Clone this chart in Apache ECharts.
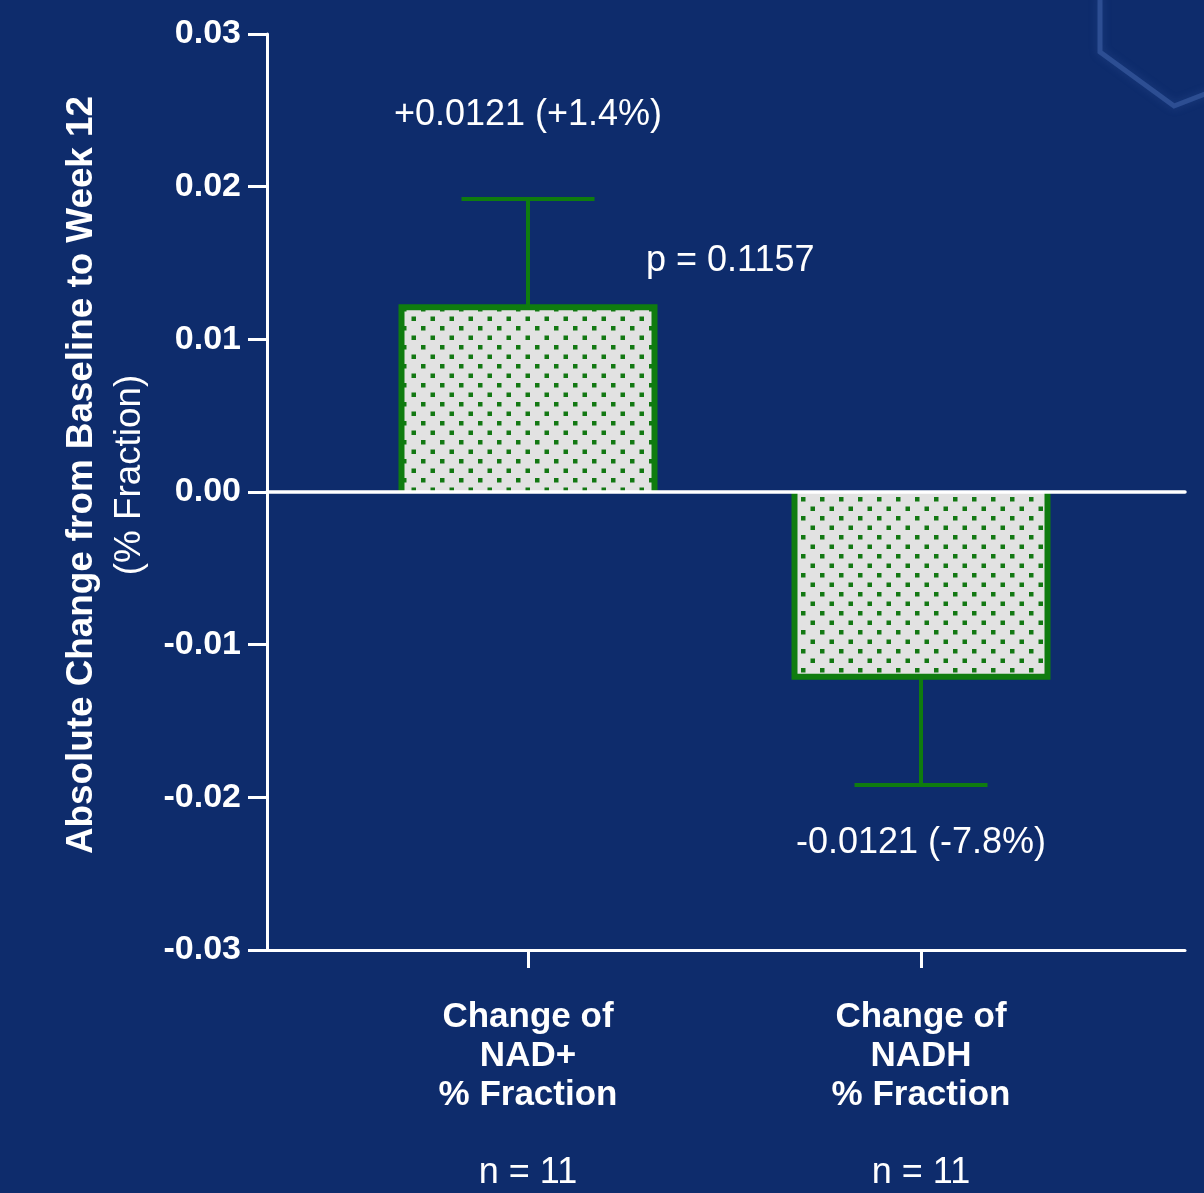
<!DOCTYPE html>
<html>
<head>
<meta charset="utf-8">
<title>NAD+ / NADH change</title>
<script src="https://cdn.jsdelivr.net/npm/echarts@6/dist/echarts.min.js"></script>
<style>
  html, body { margin: 0; padding: 0; background: #0e2c6c; }
  #chart { width: 1204px; height: 1193px; }
</style>
</head>
<body>
<div id="chart"></div>
<script>
// Measured compounds and their group sizes
const compounds = ['NAD+', 'NADH'];
const groupSizes = [11, 11];
// Mean absolute change from baseline to week 12 (% fraction)
const meanChange = [0.0121, -0.0121];
// Relative change in percent
const relativeChange = [1.4, -7.8];
// Standard error bar lengths (drawn away from zero)
const errorSize = [0.0071, 0.0071];
// Y axis range and step
const yMin = -0.03, yMax = 0.03, yStep = 0.01;
const pValueText = 'p = 0.1157';

const FONT = '"Liberation Sans", Arial, Helvetica, sans-serif';
const WHITE = '#ffffff';
const GREEN = '#0f7c0f';
const BAR_WIDTH = 253;

// dotted light-grey fill used inside the bars
function dotPattern() {
  const c = document.createElement('canvas');
  const s = 19;
  c.width = s; c.height = s;
  const g = c.getContext('2d');
  g.fillStyle = '#e2e2e2';
  g.fillRect(0, 0, s, s);
  g.fillStyle = '#137813';
  g.fillRect(3, 3, 4.5, 4.5);
  g.fillRect(12.5, 12.5, 4.5, 4.5);
  return c;
}

function signed(v, digits) {
  return (v > 0 ? '+' : '') + v.toFixed(digits);
}

const barData = meanChange.map((v, i) => ({
  value: v,
  label: {
    position: v >= 0 ? 'top' : 'bottom',
    distance: v >= 0 ? 174 : 148
  }
}));

// [category index, bar end, error end]
const outlineData = meanChange.map((v, i) => [
  i, v, v + Math.sign(v) * errorSize[i]
]);

const chart = echarts.init(document.getElementById('chart'), null, { renderer: 'canvas' });

chart.setOption({
  backgroundColor: '#0e2c6c',
  animation: false,
  title: {
    text: pValueText,
    left: 641,
    top: 238,
    textStyle: { color: WHITE, fontFamily: FONT, fontSize: 36, fontWeight: 'normal' }
  },
  graphic: [{
    type: 'polyline',
    silent: true,
    z: -1,
    shape: { points: [[1100, -5], [1100, 52], [1174, 106], [1210, 92]] },
    style: { stroke: 'rgba(75,110,185,0.45)', lineWidth: 5, fill: null, shadowBlur: 8, shadowColor: 'rgba(75,110,185,0.6)' }
  }],
  grid: [
    { left: 267, right: 19, top: 34, bottom: 243 },
    { left: 331.5, right: 86.5, top: 34, bottom: 243 }
  ],
  xAxis: [
    {
      // bottom frame line
      gridIndex: 0, type: 'value', min: 0, max: 1, position: 'bottom', z: 10,
      axisLine: { show: true, onZero: false, lineStyle: { color: WHITE, width: 3 } },
      axisTick: { show: false }, axisLabel: { show: false }, splitLine: { show: false }
    },
    {
      // zero reference line
      gridIndex: 0, type: 'value', min: 0, max: 1, position: 'top', z: 10,
      axisLine: { show: true, onZero: true, lineStyle: { color: WHITE, width: 3.5 } },
      axisTick: { show: false }, axisLabel: { show: false }, splitLine: { show: false }
    },
    {
      gridIndex: 1, type: 'category', data: compounds, position: 'bottom',
      axisLine: { show: false, onZero: false },
      axisTick: { show: true, alignWithLabel: true, length: 18, lineStyle: { color: WHITE, width: 3 } },
      axisLabel: {
        margin: 48,
        color: WHITE,
        fontFamily: FONT,
        fontSize: 35,
        lineHeight: 39,
        formatter: (name, idx) =>
          '{b|Change of}\n{b|' + name + '}\n{b|% Fraction}\n{b| }\n{n|n = ' + groupSizes[idx] + '}',
        rich: {
          b: { color: WHITE, fontFamily: FONT, fontSize: 35, fontWeight: 'bold', lineHeight: 39 },
          n: { color: WHITE, fontFamily: FONT, fontSize: 36, fontWeight: 'normal', lineHeight: 39 }
        }
      },
      splitLine: { show: false }
    }
  ],
  yAxis: [
    {
      gridIndex: 0, type: 'value', min: yMin, max: yMax, interval: yStep,
      axisLine: { show: true, lineStyle: { color: WHITE, width: 3 } },
      axisTick: { show: true, inside: false, length: 19, lineStyle: { color: WHITE, width: 3 } },
      axisLabel: {
        margin: 26, color: WHITE, fontFamily: FONT, fontSize: 34, fontWeight: 'bold',
        formatter: v => v.toFixed(2)
      },
      splitLine: { show: false },
      name: '{t|Absolute Change from Baseline to Week 12}\n{s|(% Fraction)}',
      nameLocation: 'middle',
      nameRotate: 90,
      nameGap: 113,
      nameTextStyle: {
        padding: [0, 0, 0, 34],
        rich: {
          t: { color: WHITE, fontFamily: FONT, fontSize: 36.8, fontWeight: 'bold', lineHeight: 48 },
          s: { color: WHITE, fontFamily: FONT, fontSize: 36.8, fontWeight: 'normal', lineHeight: 48 }
        }
      }
    },
    {
      gridIndex: 1, type: 'value', min: yMin, max: yMax, interval: yStep, show: false
    }
  ],
  series: [
    {
      // dotted bar bodies
      type: 'bar',
      xAxisIndex: 2, yAxisIndex: 1,
      barWidth: BAR_WIDTH,
      z: 2,
      data: barData,
      itemStyle: {
        color: { image: dotPattern(), repeat: 'repeat' },
        borderWidth: 0
      },
      label: {
        show: true,
        color: WHITE,
        fontFamily: FONT,
        fontSize: 36,
        formatter: p => signed(meanChange[p.dataIndex], 4) + ' (' + signed(relativeChange[p.dataIndex], 1) + '%)'
      }
    },
    {
      // open-ended bar outline (no edge on the zero line) plus one-sided error bar
      type: 'custom',
      xAxisIndex: 2, yAxisIndex: 1,
      z: 3,
      data: outlineData,
      renderItem: (params, api) => {
        const zero = api.coord([api.value(0), 0]);
        const end = api.coord([api.value(0), api.value(1)]);
        const err = api.coord([api.value(0), api.value(2)]);
        const hw = BAR_WIDTH / 2;
        const whisker = 66.5;
        const errStyle = { stroke: GREEN, lineWidth: 4 };
        return {
          type: 'group',
          children: [
            { type: 'line', shape: { x1: end[0], y1: end[1], x2: err[0], y2: err[1] }, style: errStyle },
            { type: 'line', shape: { x1: err[0] - whisker, y1: err[1], x2: err[0] + whisker, y2: err[1] }, style: errStyle },
            {
              type: 'polyline',
              shape: { points: [[zero[0] - hw, zero[1]], [end[0] - hw, end[1]], [end[0] + hw, end[1]], [zero[0] + hw, zero[1]]] },
              style: { stroke: GREEN, lineWidth: 6, fill: null, lineJoin: 'miter' }
            }
          ]
        };
      }
    }
  ]
});
</script>
</body>
</html>
